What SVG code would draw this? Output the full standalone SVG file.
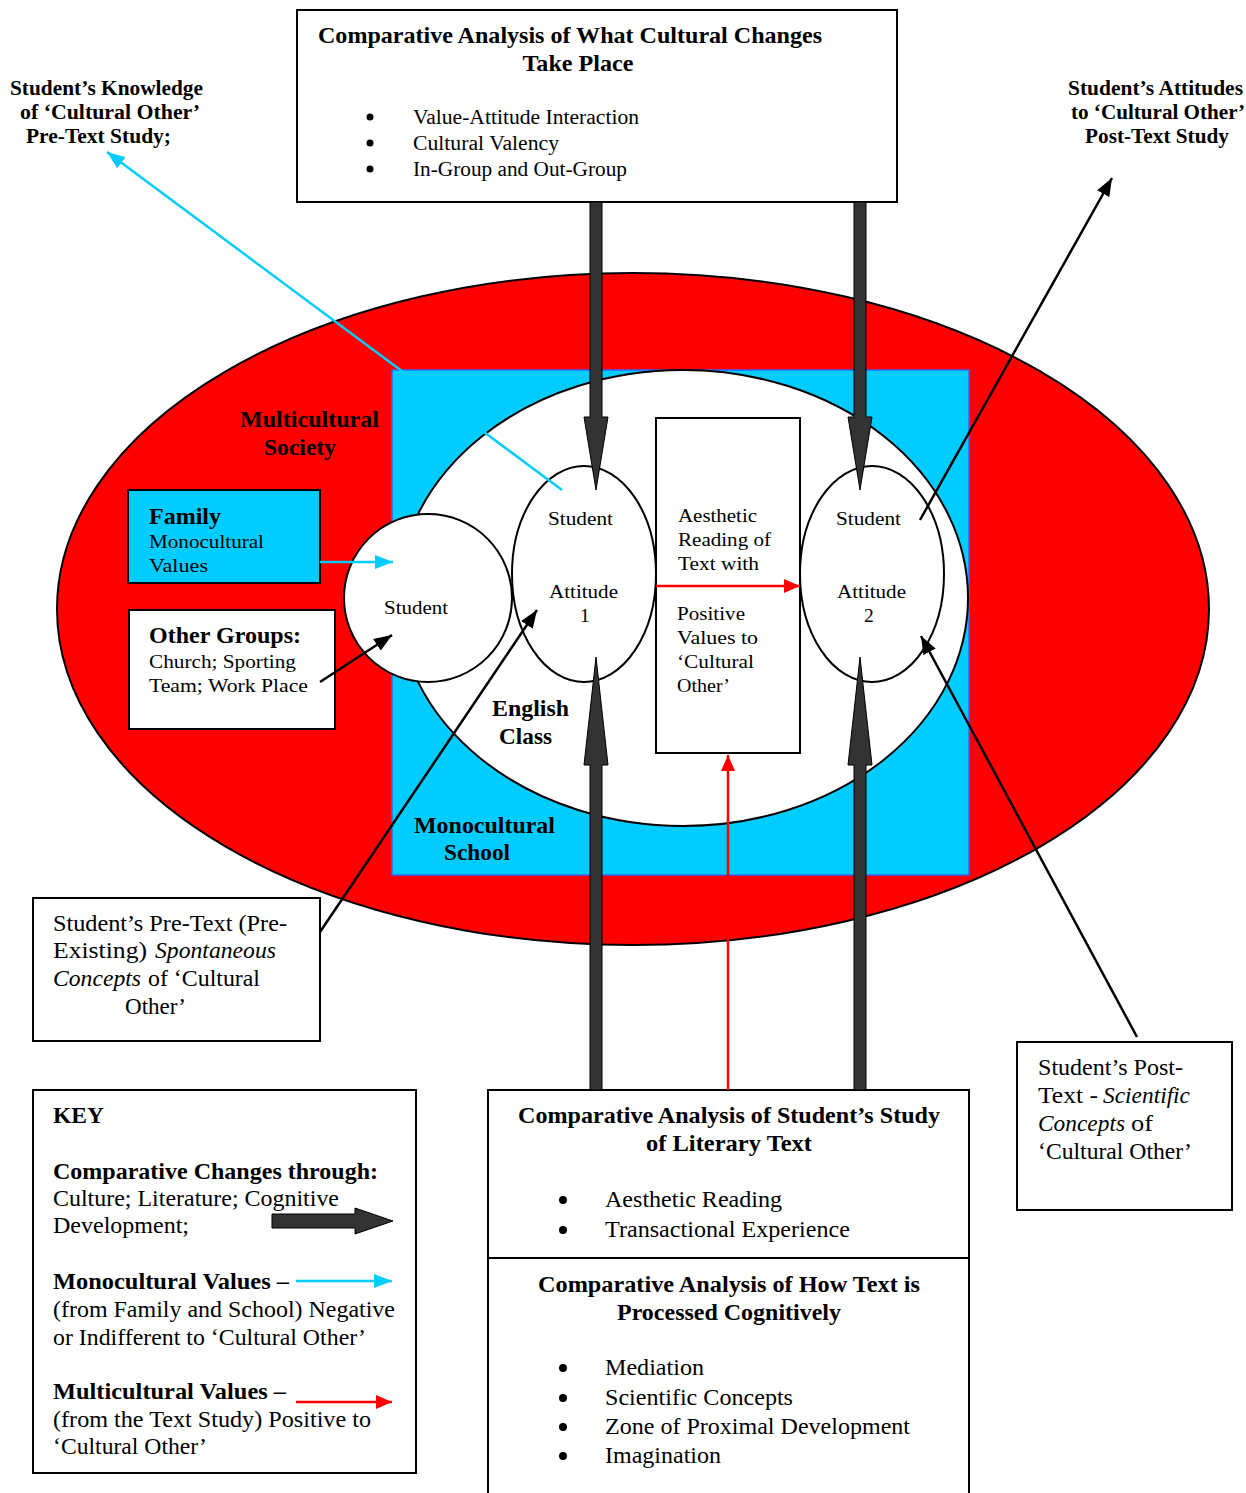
<svg xmlns="http://www.w3.org/2000/svg" width="1246" height="1493" viewBox="0 0 1246 1493">
<style>
text{font-family:"Liberation Serif","Times New Roman",serif;fill:#000}
.b{font-weight:bold}
.i{font-style:italic}
.f19{font-size:19.5px}.f20{font-size:20.5px}.f21{font-size:21.5px}.f22{font-size:22.5px}.f23{font-size:23px}
.box{fill:#fff;stroke:#000;stroke-width:2}
.ell{fill:#fff;stroke:#000;stroke-width:2}
.thick{fill:#333;stroke:#000;stroke-width:1}
.blk{stroke:#000;stroke-width:2.5;fill:none}
.cy{stroke:#00CCFF;stroke-width:2.5;fill:none}
.rd{stroke:#FF0000;stroke-width:2.5;fill:none}
</style>
<defs>
<marker id="mb" markerUnits="userSpaceOnUse" markerWidth="18" markerHeight="14" refX="18" refY="7" orient="auto"><path d="M0,0 L18,7 L0,14 z" fill="#000"/></marker>
<marker id="mc" markerUnits="userSpaceOnUse" markerWidth="18" markerHeight="14" refX="18" refY="7" orient="auto"><path d="M0,0 L18,7 L0,14 z" fill="#00CCFF"/></marker>
<marker id="mr" markerUnits="userSpaceOnUse" markerWidth="16" markerHeight="14" refX="16" refY="7" orient="auto"><path d="M0,0 L16,7 L0,14 z" fill="#FF0000"/></marker>
</defs>
<rect width="1246" height="1493" fill="#fff"/>

<g id="society">
<ellipse cx="633" cy="609" rx="576" ry="336" fill="#FF0000" stroke="#000" stroke-width="2"/>
<text class="b f23" x="240" y="427" textLength="139" lengthAdjust="spacingAndGlyphs">Multicultural</text>
<text class="b f23" x="264" y="455" textLength="72" lengthAdjust="spacingAndGlyphs">Society</text>
</g>
<g id="school">
<rect x="392" y="370" width="577" height="505" fill="#00CCFF" stroke="#3366FF" stroke-width="1.5"/>
<text class="b f23" x="414" y="833" textLength="141" lengthAdjust="spacingAndGlyphs">Monocultural</text>
<text class="b f23" x="444" y="860" textLength="66" lengthAdjust="spacingAndGlyphs">School</text>
</g>
<g id="english-class">
<ellipse cx="683" cy="598" rx="285" ry="228" class="ell"/>
<text class="b f23" x="492" y="716" textLength="77" lengthAdjust="spacingAndGlyphs">English</text>
<text class="b f23" x="499" y="744" textLength="53" lengthAdjust="spacingAndGlyphs">Class</text>
</g>
<g id="student">
<ellipse cx="428" cy="598" rx="84" ry="84" class="ell"/>
<text class="f19" x="384" y="614" textLength="64" lengthAdjust="spacingAndGlyphs">Student</text>
</g>
<g id="attitude1">
<ellipse cx="584" cy="574" rx="72" ry="108" class="ell"/>
<text class="f19" x="548" y="525" textLength="65" lengthAdjust="spacingAndGlyphs">Student</text>
<text class="f19" x="549" y="598" textLength="69" lengthAdjust="spacingAndGlyphs">Attitude</text>
<text class="f19" x="580" y="622">1</text>
</g>
<g id="attitude2">
<ellipse cx="872" cy="574" rx="72" ry="108" class="ell"/>
<text class="f19" x="836" y="525" textLength="65" lengthAdjust="spacingAndGlyphs">Student</text>
<text class="f19" x="837" y="598" textLength="69" lengthAdjust="spacingAndGlyphs">Attitude</text>
<text class="f19" x="864" y="622">2</text>
</g>
<g id="aesthetic-reading">
<rect x="656" y="418" width="144" height="335" class="box"/>
<text class="f19" x="678" y="522" textLength="79" lengthAdjust="spacingAndGlyphs">Aesthetic</text>
<text class="f19" x="678" y="546" textLength="93" lengthAdjust="spacingAndGlyphs">Reading of</text>
<text class="f19" x="678" y="570" textLength="81" lengthAdjust="spacingAndGlyphs">Text with</text>
<text class="f19" x="677" y="620" textLength="68" lengthAdjust="spacingAndGlyphs">Positive</text>
<text class="f19" x="677" y="644" textLength="81" lengthAdjust="spacingAndGlyphs">Values to</text>
<text class="f19" x="677" y="668" textLength="77" lengthAdjust="spacingAndGlyphs">‘Cultural</text>
<text class="f19" x="677" y="692" textLength="53" lengthAdjust="spacingAndGlyphs">Other’</text>
</g>
<g id="family">
<rect x="128" y="490" width="192" height="93" fill="#00CCFF" stroke="#000" stroke-width="2"/>
<text class="b f22" x="149" y="524" textLength="72" lengthAdjust="spacingAndGlyphs">Family</text>
<text class="f19" x="149" y="548" textLength="115" lengthAdjust="spacingAndGlyphs">Monocultural</text>
<text class="f19" x="149" y="572" textLength="59" lengthAdjust="spacingAndGlyphs">Values</text>
</g>
<g id="other-groups">
<rect x="129" y="610" width="206" height="119" class="box"/>
<text class="b f22" x="149" y="643" textLength="152" lengthAdjust="spacingAndGlyphs">Other Groups:</text>
<text class="f19" x="149" y="668" textLength="147" lengthAdjust="spacingAndGlyphs">Church; Sporting</text>
<text class="f19" x="149" y="692" textLength="159" lengthAdjust="spacingAndGlyphs">Team; Work Place</text>
</g>

<g id="top-box">
<rect x="297" y="10" width="600" height="192" class="box"/>
<text class="b f23" x="570" y="43" text-anchor="middle" textLength="504" lengthAdjust="spacingAndGlyphs">Comparative Analysis of What Cultural Changes</text>
<text class="b f23" x="578" y="71" text-anchor="middle" textLength="111" lengthAdjust="spacingAndGlyphs">Take Place</text>
<circle cx="370" cy="117" r="3.5"/><circle cx="370" cy="143" r="3.5"/><circle cx="370" cy="169" r="3.5"/>
<text class="f20" x="413" y="124" textLength="226" lengthAdjust="spacingAndGlyphs">Value-Attitude Interaction</text>
<text class="f20" x="413" y="150" textLength="146" lengthAdjust="spacingAndGlyphs">Cultural Valency</text>
<text class="f20" x="413" y="176" textLength="214" lengthAdjust="spacingAndGlyphs">In-Group and Out-Group</text>
</g>
<g id="pre-knowledge">
<text class="b f20" x="10" y="95" textLength="193" lengthAdjust="spacingAndGlyphs">Student’s Knowledge</text>
<text class="b f20" x="20" y="119" textLength="180" lengthAdjust="spacingAndGlyphs">of  ‘Cultural Other’</text>
<text class="b f20" x="26" y="143" textLength="145" lengthAdjust="spacingAndGlyphs">Pre-Text Study;</text>
</g>
<g id="post-attitudes">
<text class="b f20" x="1068" y="95" textLength="175" lengthAdjust="spacingAndGlyphs">Student’s Attitudes</text>
<text class="b f20" x="1071" y="119" textLength="174" lengthAdjust="spacingAndGlyphs">to ‘Cultural Other’</text>
<text class="b f20" x="1085" y="143" textLength="144" lengthAdjust="spacingAndGlyphs">Post-Text Study</text>
</g>
<g id="pre-text">
<rect x="33" y="898" width="287" height="143" class="box"/>
<text class="f22" x="53" y="931" textLength="234" lengthAdjust="spacingAndGlyphs">Student’s Pre-Text (Pre-</text>
<text class="f22" x="53" y="958" textLength="94" lengthAdjust="spacingAndGlyphs">Existing)</text>
<text class="f22 i" x="155" y="958" textLength="121" lengthAdjust="spacingAndGlyphs">Spontaneous</text>
<text class="f22 i" x="53" y="986" textLength="88" lengthAdjust="spacingAndGlyphs">Concepts</text>
<text class="f22" x="148" y="986" textLength="112" lengthAdjust="spacingAndGlyphs">of ‘Cultural</text>
<text class="f22" x="125" y="1014" textLength="61" lengthAdjust="spacingAndGlyphs">Other’</text>
</g>
<g id="post-text">
<rect x="1017" y="1042" width="215" height="168" class="box"/>
<text class="f22" x="1038" y="1075" textLength="145" lengthAdjust="spacingAndGlyphs">Student’s Post-</text>
<text class="f22" x="1038" y="1103" textLength="60" lengthAdjust="spacingAndGlyphs">Text -</text>
<text class="f22 i" x="1103" y="1103" textLength="87" lengthAdjust="spacingAndGlyphs">Scientific</text>
<text class="f22 i" x="1038" y="1131" textLength="87" lengthAdjust="spacingAndGlyphs">Concepts</text>
<text class="f22" x="1131" y="1131" textLength="22" lengthAdjust="spacingAndGlyphs">of</text>
<text class="f22" x="1038" y="1159" textLength="154" lengthAdjust="spacingAndGlyphs">‘Cultural Other’</text>
</g>
<g id="key">
<rect x="33" y="1090" width="383" height="383" class="box"/>
<text class="b f23" x="53" y="1123" textLength="51" lengthAdjust="spacingAndGlyphs">KEY</text>
<text class="b f23" x="53" y="1179" textLength="325" lengthAdjust="spacingAndGlyphs">Comparative Changes through:</text>
<text class="f22" x="53" y="1206" textLength="286" lengthAdjust="spacingAndGlyphs">Culture; Literature; Cognitive</text>
<text class="f22" x="53" y="1233" textLength="136" lengthAdjust="spacingAndGlyphs">Development;</text>
<polygon class="thick" points="272,1214 355,1214 355,1208 393,1221 355,1234 355,1228 272,1228"/>
<text class="b f23" x="53" y="1289" textLength="236" lengthAdjust="spacingAndGlyphs">Monocultural Values –</text>
<line class="cy" x1="296" y1="1281" x2="392" y2="1281" marker-end="url(#mc)"/>
<text class="f22" x="53" y="1317" textLength="342" lengthAdjust="spacingAndGlyphs">(from Family and School) Negative</text>
<text class="f22" x="53" y="1345" textLength="313" lengthAdjust="spacingAndGlyphs">or Indifferent to ‘Cultural Other’</text>
<text class="b f23" x="53" y="1399" textLength="233" lengthAdjust="spacingAndGlyphs">Multicultural Values –</text>
<line class="rd" x1="296" y1="1402" x2="392" y2="1402" marker-end="url(#mr)"/>
<text class="f22" x="53" y="1427" textLength="318" lengthAdjust="spacingAndGlyphs">(from the Text Study) Positive to</text>
<text class="f22" x="53" y="1454" textLength="154" lengthAdjust="spacingAndGlyphs">‘Cultural Other’</text>
</g>
<g id="bottom-box">
<rect x="488" y="1090" width="481" height="420" class="box"/>
<line x1="488" y1="1258" x2="969" y2="1258" stroke="#000" stroke-width="2"/>
<text class="b f23" x="729" y="1123" text-anchor="middle" textLength="422" lengthAdjust="spacingAndGlyphs">Comparative Analysis of Student’s Study</text>
<text class="b f23" x="729" y="1151" text-anchor="middle" textLength="166" lengthAdjust="spacingAndGlyphs">of Literary Text</text>
<circle cx="563" cy="1200" r="4"/><circle cx="563" cy="1230" r="4"/>
<text class="f22" x="605" y="1207" textLength="177" lengthAdjust="spacingAndGlyphs">Aesthetic Reading</text>
<text class="f22" x="605" y="1237" textLength="245" lengthAdjust="spacingAndGlyphs">Transactional Experience</text>
<text class="b f23" x="729" y="1292" text-anchor="middle" textLength="382" lengthAdjust="spacingAndGlyphs">Comparative Analysis of How Text is</text>
<text class="b f23" x="729" y="1320" text-anchor="middle" textLength="224" lengthAdjust="spacingAndGlyphs">Processed Cognitively</text>
<circle cx="563" cy="1368" r="4"/><circle cx="563" cy="1398" r="4"/><circle cx="563" cy="1427" r="4"/><circle cx="563" cy="1456" r="4"/>
<text class="f22" x="605" y="1375" textLength="99" lengthAdjust="spacingAndGlyphs">Mediation</text>
<text class="f22" x="605" y="1405" textLength="188" lengthAdjust="spacingAndGlyphs">Scientific Concepts</text>
<text class="f22" x="605" y="1434" textLength="305" lengthAdjust="spacingAndGlyphs">Zone of Proximal Development</text>
<text class="f22" x="605" y="1463" textLength="116" lengthAdjust="spacingAndGlyphs">Imagination</text>
</g>

<g id="connectors">
<polygon class="thick" points="590,202 602,202 602,417 608,417 596,490 584,417 590,417"/>
<polygon class="thick" points="854,202 866,202 866,417 872,417 860,490 848,417 854,417"/>
<polygon class="thick" points="590,1090 602,1090 602,765 608,765 596,657 584,765 590,765"/>
<polygon class="thick" points="854,1090 866,1090 866,765 872,765 860,657 848,765 854,765"/>
<line class="cy" x1="562" y1="490" x2="107" y2="152" marker-end="url(#mc)"/>
<line class="cy" x1="320" y1="562" x2="393" y2="562" marker-end="url(#mc)"/>
<line class="blk" x1="320" y1="682" x2="392" y2="635" marker-end="url(#mb)"/>
<line class="blk" x1="320" y1="932" x2="537" y2="610" marker-end="url(#mb)"/>
<line class="blk" x1="920" y1="520" x2="1112" y2="178" marker-end="url(#mb)"/>
<line class="blk" x1="1137" y1="1037" x2="921" y2="636" marker-end="url(#mb)"/>
<line class="rd" x1="656" y1="586" x2="800" y2="586" marker-end="url(#mr)"/>
<line class="rd" x1="728" y1="1090" x2="728" y2="755" marker-end="url(#mr)"/>
</g>
</svg>
